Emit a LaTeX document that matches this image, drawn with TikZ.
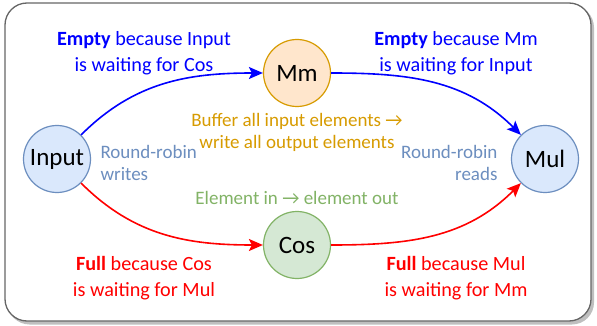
\documentclass[tikz,border=0pt]{standalone}
\usepackage{fontspec}
\setmainfont{Carlito}
\usetikzlibrary{arrows.meta}
\usetikzlibrary{positioning}
\definecolor{bluefill}{HTML}{DAE8FC}
\definecolor{bluedraw}{HTML}{6C8EBF}
\definecolor{orangefill}{HTML}{FFE6CC}
\definecolor{orangedraw}{HTML}{D79B00}
\definecolor{greenfill}{HTML}{D5E8D4}
\definecolor{greendraw}{HTML}{82B366}
\tikzset{main node/.style={circle,draw,line width=1.2pt,minimum size=67pt,inner sep=0pt,font=\fontsize{25}{29}\selectfont}}
\tikzset{note/.style={align=center,font=\fontsize{20.2}{25.5}\selectfont}}
\tikzset{small note/.style={align=center,font=\fontsize{19}{22}\selectfont}}
\tikzset{flow/.style={line width=1.6pt,-{Stealth[length=14pt,width=12pt,inset=3pt]}}}

\begin{document}
\begin{tikzpicture}[x=1pt,y=-1pt]
	\useasboundingbox (0,0) rectangle (597,326);
	\fill[gray!50,rounded corners=22pt] (7.5,5.5) rectangle (594,324.5);
	\draw[black!60,fill=white,line width=1.3pt,rounded corners=22pt] (5,3) rectangle (591,321);

	\node[main node,fill=bluefill,draw=bluedraw] (input) at (57,159) {Input};
	\node[main node,fill=orangefill,draw=orangedraw] (mm) at (297,73) {Mm};
	\node[main node,fill=greenfill,draw=greendraw] (cos) at (297,245) {Cos};
	\node[main node,fill=bluefill,draw=bluedraw] (mul) at (545,159) {Mul};

	\path [flow,blue]
	(input) edge[out=45,in=180] (mm)
	(mm) edge[out=0,in=135] (mul);
	\path [flow,red]
	(input) edge[out=-45,in=180] (cos)
	(cos) edge[out=0,in=-135] (mul);

	\node[note,text=blue] (emptyin) at (144,53) {\textbf{Empty} because Input\\is waiting for Cos};
	\node[note,text=blue] (emptymm) at (456,53) {\textbf{Empty} because Mm\\is waiting for Input};
	\node[note,text=red] (fullin) at (144,278) {\textbf{Full} because Cos\\is waiting for Mul};
	\node[note,text=red] (fullcos) at (456,278) {\textbf{Full} because Mul\\is waiting for Mm};
	\node[small note,text=orangedraw] (buffer) at (297,132.5) {Buffer all input elements \char"2192\\write all output elements};
	\node[small note,text=greendraw] (elem) at (297,198) {Element in \char"2192{} element out};
	\node[small note,text=bluedraw,align=left,anchor=west] (writes) at (97,163) {Round-robin\\writes};
	\node[small note,text=bluedraw,align=right,anchor=east] (reads) at (501,163) {Round-robin\\reads};
\end{tikzpicture}
\end{document}
